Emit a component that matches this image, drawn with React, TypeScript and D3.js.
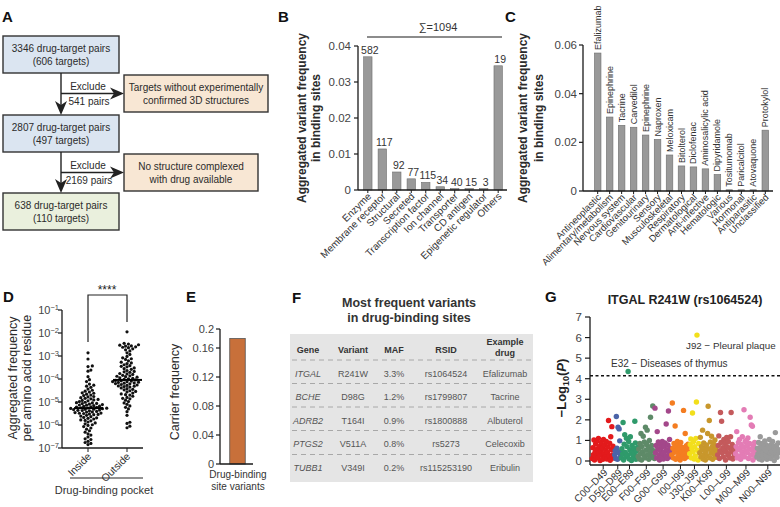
import React from 'react';
import * as d3 from 'd3';

const FONT = '"Liberation Sans", Arial, Helvetica, sans-serif';
const INK = '#2b2b2b';
const AXIS = '#1a1a1a';

// ---------- A: flowchart ----------
const flowMain = [
  ['3346 drug-target pairs', '(606 targets)'],
  ['2807 drug-target pairs', '(497 targets)'],
  ['638 drug-target pairs', '(110 targets)'],
];
const flowExcluded = [
  ['Targets without experimentally', 'confirmed 3D structures'],
  ['No structure complexed', 'with drug available'],
];
const flowExcludedPairs = ['541 pairs', '2169 pairs'];

// ---------- B: target classes ----------
const targetClasses = [
  'Enzyme', 'Membrane receptor', 'Structural', 'Secreted', 'Transcription factor',
  'Ion channel', 'Transporter', 'CD antigen', 'Epigenetic regulator', 'Others',
];
const targetClassFreq = [0.037, 0.0114, 0.005, 0.0031, 0.0021, 0.0009, 0.0004, 0.0004, 0.0004, 0.0345];
const targetClassCounts = [582, 117, 92, 77, 115, 34, 40, 15, 3, 19];
const targetTicks = [0, 0.01, 0.02, 0.03, 0.04];

// ---------- C: drug classes ----------
const drugClasses = [
  'Antineoplastic', 'Alimentary/metabolism', 'Nervous system', 'Cardiovascular', 'Genitourinary',
  'Sensory', 'Musculoskeletal', 'Respiratory', 'Dermatological', 'Anti-infective',
  'Hematologic', 'Various', 'Hormonal', 'Antiparasitic', 'Unclassified',
];
const drugClassFreq = [0.0567, 0.0304, 0.027, 0.0262, 0.023, 0.0212, 0.0148, 0.0103, 0.0099, 0.0091, 0.0068, 0.0005, 0.0005, 0.0005, 0.025];
const topDrugs = [
  'Efalizumab', 'Epinephrine', 'Tacrine', 'Carvedilol', 'Epinephrine', 'Naproxen', 'Meloxicam',
  'Bitolterol', 'Diclofenac', 'Aminosalicylic acid', 'Dipyridamole', 'Tositumomab', 'Paricalcitol',
  'Atovaquone', 'Protokylol',
];
const drugTicks = [0, 0.02, 0.04, 0.06];

// ---------- D: log10 aggregated frequency per residue ----------
const insideLog = [
  -2.86, -3.13, -3.43, -3.46, -3.61, -3.66, -3.9, -4.03, -4.11, -4.22, -4.27, -4.36, -4.31, -4.44, -4.49,
  -4.53, -4.6, -4.57, -4.66, -4.62, -4.72, -4.7, -4.78, -4.81, -4.76, -4.86, -4.84, -4.91, -4.89, -4.95,
  -4.98, -5.03, -5.01, -5.06, -5.09, -5.04, -5.13, -5.11, -5.16, -5.14, -5.19, -5.22, -5.18, -5.25, -5.27,
  -5.23, -5.29, -5.31, -5.28, -5.33, -5.36, -5.32, -5.38, -5.41, -5.37, -5.44, -5.46, -5.43, -5.49, -5.52,
  -5.48, -5.55, -5.58, -5.54, -5.61, -5.64, -5.67, -5.71, -5.69, -5.74, -5.78, -5.82, -5.8, -5.87, -5.91,
  -5.95, -6.02, -5.99, -6.07, -6.13, -6.18, -6.25, -6.31, -6.38, -6.44, -6.52, -6.6, -6.63, -6.71, -6.76,
  -6.8, -6.85, -5.21, -5.35, -5.07, -4.93, -5.5, -5.26,
];
const outsideLog = [
  -1.95, -2.45, -2.48, -2.53, -2.51, -2.57, -2.6, -2.56, -2.64, -2.62, -2.69, -2.73, -2.78, -2.86, -2.93,
  -3.02, -3.08, -3.15, -3.12, -3.21, -3.27, -3.33, -3.3, -3.38, -3.42, -3.47, -3.45, -3.52, -3.58, -3.55,
  -3.63, -3.67, -3.71, -3.69, -3.76, -3.8, -3.78, -3.84, -3.88, -3.86, -3.92, -3.95, -3.99, -4.02, -3.97,
  -4.06, -4.09, -4.04, -4.12, -4.15, -4.11, -4.18, -4.21, -4.17, -4.24, -4.28, -4.26, -4.31, -4.35, -4.33,
  -4.39, -4.42, -4.47, -4.45, -4.51, -4.56, -4.54, -4.61, -4.65, -4.7, -4.68, -4.75, -4.8, -4.86, -4.84,
  -4.92, -4.98, -5.04, -5.1, -5.17, -5.23, -5.3, -5.42, -5.58, -5.88, -5.93, -6.05, -6.12, -4.14, -4.08,
  -4.2, -3.9, -4.3,
];
const pocketGroups = ['Inside', 'Outside'];
const logTicks = [-7, -6, -5, -4, -3, -2, -1];

// ---------- E: carrier frequency ----------
const carrierGroups = ['Drug-binding site variants'];
const carrierFreq = [0.18];
const carrierTicks = [0, 0.04, 0.08, 0.12, 0.16, 0.2];

// ---------- F: table ----------
const tblHeader = ['Gene', 'Variant', 'MAF', 'RSID', 'Example drug'];
const tblGene = ['ITGAL', 'BCHE', 'ADRB2', 'PTGS2', 'TUBB1'];
const tblVariant = ['R241W', 'D98G', 'T164I', 'V511A', 'V349I'];
const tblMaf = ['3.3%', '1.2%', '0.9%', '0.8%', '0.2%'];
const tblRsid = ['rs1064524', 'rs1799807', 'rs1800888', 'rs5273', 'rs115253190'];
const tblDrug = ['Efalizumab', 'Tacrine', 'Albuterol', 'Celecoxib', 'Eribulin'];

// ---------- G: PheWAS ----------
const chapters = ['C00–D49', 'D50–D89', 'E00–E89', 'F00–F99', 'G00–G99', 'I00–I99', 'J30–J99', 'K00–K99', 'L00–L99', 'M00–M99', 'N00–N99'];
const chapterColors = ['#e31a1c', '#4b64a8', '#2f9a6b', '#5e8a68', '#a3478a', '#f47d21', '#f2df1b', '#c8972c', '#c45a5c', '#e37cb5', '#9a9a9a'];
const pheC = [0.12, 0.65, 0.31, 1.02, 0.05, 0.44, 0.83, 0.22, 0.96, 0.58, 0.15, 1.1, 0.38, 0.71, 0.02, 0.49, 0.9, 0.27, 0.63, 0.08, 1.05, 0.35, 0.76, 0.18, 0.52, 0.95, 0.1, 0.41, 0.68, 1.97, 0.25, 0.86, 0.04, 1.18, 0.55, 1.67, 0.3, 0.72, 0.14, 0.6];
const pheD = [0.3, 0.5, 0.12, 2.16, 0.62, 0.08, 1.64, 0.4, 1.56, 0.98, 0.2, 0.45];
const pheE = [0.15, 0.6, 0.35, 1.87, 0.05, 0.82, 1.28, 0.42, 0.2, 1.1, 0.7, 0.28, 4.35, 0.95, 0.1, 0.55, 1.18, 0.38, 0.02, 0.75, 0.48, 0.18, 0.62, 0.32, 1.93, 0.88, 0.08, 0.5, 0.25, 0.66];
const pheF = [0.22, 0.58, 0.1, 0.85, 0.36, 1.34, 0.05, 0.7, 0.45, 1.2, 0.28, 0.92, 0.15, 1.64, 0.52, 0.8, 1.5, 0.3, 0.62, 0.08, 1.0, 0.4, 2.13, 0.18, 0.75, 0.55, 2.67, 0.25, 0.48, 0.12];
const pheG = [2.57, 0.4, 0.75, 0.15, 1.43, 0.6, 0.92, 0.3, 0.05, 0.82, 0.5, 0.2, 0.68, 0.95, 0.38, 0.1, 0.72, 0.45, 0.88, 0.25, 1.8, 0.55, 0.12, 0.78, 2.43, 0.35, 1.05, 0.62, 0.2, 0.48];
const pheI = [0.3, 2.82, 0.62, 0.15, 0.85, 0.42, 1.7, 0.08, 0.7, 0.5, 0.95, 0.22, 0.6, 0.35, 0.78, 0.05, 0.9, 0.45, 0.18, 0.66, 0.28, 2.46, 0.55, 0.12, 1.34, 0.4, 0.74, 0.2, 0.58, 0.82, 0.32, 0.48];
const pheJ = [0.35, 0.8, 1.07, 0.15, 0.6, 2.33, 0.45, 0.95, 0.1, 0.7, 0.25, 1.1, 2.87, 6.12, 0.52, 0.05, 0.85, 0.4];
const pheK = [0.4, 1.15, 0.2, 0.7, 0.55, 1.5, 0.1, 0.88, 0.32, 0.62, 0.05, 0.45, 0.78, 0.25, 1.34, 2.66, 0.58, 1.97, 0.15, 0.92, 0.38, 1.2, 0.68, 0.08, 0.5, 0.82, 0.3, 1.02, 0.6, 0.18, 0.72, 0.42];
const pheL = [0.3, 0.75, 1.22, 0.12, 0.5, 2.36, 0.9, 1.93, 0.4, 0.65, 0.2, 1.05, 0.58, 0.85, 0.05, 0.45, 1.15, 0.7, 0.28, 0.95, 0.35, 0.62, 0.15, 1.18, 2.36, 0.52, 0.8, 0.1, 0.42, 0.68, 0.25, 0.55];
const pheM = [0.35, 0.7, 1.43, 0.15, 0.55, 0.9, 0.25, 1.05, 0.62, 0.08, 0.8, 0.45, 1.18, 0.3, 0.68, 2.49, 0.2, 0.95, 0.5, 1.0, 0.75, 0.4, 1.12, 0.12, 0.6, 0.85, 2.13, 0.28, 1.75, 0.52, 1.69, 0.05, 0.72, 0.38, 0.9, 0.18, 0.58, 0.45];
const pheN = [0.2, 0.62, 0.35, 0.9, 0.1, 0.5, 1.18, 0.72, 0.28, 0.05, 0.85, 0.42, 0.65, 0.15, 0.98, 0.55, 0.3, 0.78, 0.08, 0.48, 0.7, 0.22, 1.05, 0.6, 0.38, 0.12, 0.82, 0.45, 0.95, 0.25, 0.68, 0.02, 0.52, 1.38, 0.32, 0.75, 0.18, 0.58, 0.88, 0.4];
const pheValues = [pheC, pheD, pheE, pheF, pheG, pheI, pheJ, pheK, pheL, pheM, pheN];
const pheThreshold = 4.15;
const pheTicks = [0, 1, 2, 3, 4, 5, 6, 7];

function Letter({ x, y, t }: { x: number; y: number; t: string }) {
  return (
    <text x={x} y={y} fontSize={15} fontWeight="bold" fill="#111">
      {t}
    </text>
  );
}

function VLabel({ x, y, text, size = 12, bold = false }: any) {
  return (
    <text
      transform={`translate(${x},${y}) rotate(-90)`}
      textAnchor="middle"
      dy="0.35em"
      fontSize={size}
      fontWeight={bold ? 'bold' : 'normal'}
      fill={INK}>
      {text}
    </text>
  );
}

function PanelA() {
  const boxX = 3, boxW = 116, boxH = 37;
  const mainTop = [36, 115, 193];
  const mainFill = ['#dbe5f1', '#dbe5f1', '#eaf0dd'];
  const excl = [{ x: 124, y: 75, w: 144 }, { x: 124, y: 154, w: 134 }];
  const spine = boxX + boxW / 2;
  return (
    <g>
      <Letter x={2} y={22} t="A" />
      {flowMain.map((lines, i) => (
        <g key={i}>
          <rect x={boxX} y={mainTop[i]} width={boxW} height={boxH} fill={mainFill[i]} stroke="#333" strokeWidth={1.4} />
          {lines.map((s, j) => (
            <text key={j} x={spine} y={mainTop[i] + 16 + j * 13} textAnchor="middle" fontSize={10} fill={INK}>
              {s}
            </text>
          ))}
        </g>
      ))}
      {excl.map((b, i) => {
        const y0 = mainTop[i] + boxH;
        const y1 = mainTop[i + 1];
        const hy = b.y + boxH / 2;
        return (
          <g key={i}>
            <line x1={spine} x2={spine} y1={y0} y2={y1 - 8} stroke="#222" strokeWidth={1.4} />
            <path d={`M${spine},${y1} L${spine - 6},${y1 - 14} L${spine},${y1 - 10} L${spine + 6},${y1 - 14}Z`} fill="#222" />
            <line x1={spine} x2={b.x - 8} y1={hy} y2={hy} stroke="#222" strokeWidth={1.4} />
            <path d={`M${b.x},${hy} L${b.x - 14},${hy - 6} L${b.x - 10},${hy} L${b.x - 14},${hy + 6}Z`} fill="#222" />
            <rect x={b.x} y={b.y} width={b.w} height={boxH} fill="#f8e7d4" stroke="#333" strokeWidth={1.4} />
            {flowExcluded[i].map((s, j) => (
              <text key={j} x={b.x + b.w / 2} y={b.y + 16 + j * 13} textAnchor="middle" fontSize={10} fill={INK}>
                {s}
              </text>
            ))}
            <text x={88} y={hy - 4} textAnchor="middle" fontSize={10} fill={INK}>Exclude</text>
            <text x={89} y={hy + 11} textAnchor="middle" fontSize={10} fill={INK}>{flowExcludedPairs[i]}</text>
          </g>
        );
      })}
    </g>
  );
}

function PanelB() {
  const x = d3.scaleBand<string>().domain(targetClasses).range([360, 506]).paddingInner(0.42).paddingOuter(0.25);
  const y = d3.scaleLinear().domain([0, 0.04]).range([190, 46]);
  const ax0 = 358, ax1 = 507;
  return (
    <g>
      <Letter x={278} y={22} t="B" />
      <VLabel x={302} y={118} text="Aggregated variant frequency" bold size={12} />
      <VLabel x={316} y={118} text="in binding sites" bold size={12} />
      <line x1={ax0} x2={ax0} y1={y(0)} y2={y(0.04)} stroke={AXIS} strokeWidth={1.3} />
      {targetTicks.map((t) => (
        <g key={t}>
          <line x1={ax0 - 4} x2={ax0} y1={y(t)} y2={y(t)} stroke={AXIS} strokeWidth={1.2} />
          <text x={ax0 - 7} y={y(t) + 4} textAnchor="end" fontSize={11.5} fill="#444">{t === 0 ? '0' : t.toFixed(2)}</text>
        </g>
      ))}
      {targetClasses.map((c, i) => {
        const bx = x(c)!;
        const cx = bx + x.bandwidth() / 2;
        return (
          <g key={c}>
            <rect x={bx} y={y(targetClassFreq[i])} width={x.bandwidth()} height={y(0) - y(targetClassFreq[i])} fill="#999" stroke="#6e6e6e" strokeWidth={0.6} />
            <text x={cx + 2} y={y(targetClassFreq[i]) - 3} textAnchor="middle" fontSize={10.5} fill="#333">{targetClassCounts[i]}</text>
            <line x1={cx} x2={cx} y1={y(0)} y2={y(0) + 3} stroke={AXIS} />
            <text transform={`translate(${cx + 4},${y(0) + 7}) rotate(-45)`} textAnchor="end" fontSize={10} fill="#333">{c}</text>
          </g>
        );
      })}
      <line x1={ax0} x2={ax1} y1={y(0)} y2={y(0)} stroke={AXIS} strokeWidth={1.3} />
      <line x1={367} x2={502} y1={37} y2={37} stroke={AXIS} strokeWidth={1.2} />
      <text x={438} y={31} textAnchor="middle" fontSize={11} fill="#333">∑=1094</text>
    </g>
  );
}

function PanelC() {
  const x = d3.scaleBand<string>().domain(drugClasses).range([592, 771]).paddingInner(0.45).paddingOuter(0.2);
  const y = d3.scaleLinear().domain([0, 0.06]).range([191, 45]);
  const ax0 = 583, ax1 = 773;
  return (
    <g>
      <Letter x={505} y={22} t="C" />
      <VLabel x={523} y={118} text="Aggregated variant frequency" bold size={12} />
      <VLabel x={539} y={118} text="in binding sites" bold size={12} />
      <line x1={ax0} x2={ax0} y1={y(0)} y2={y(0.06)} stroke={AXIS} strokeWidth={1.3} />
      {drugTicks.map((t) => (
        <g key={t}>
          <line x1={ax0 - 4} x2={ax0} y1={y(t)} y2={y(t)} stroke={AXIS} strokeWidth={1.2} />
          <text x={ax0 - 6} y={y(t) + 4} textAnchor="end" fontSize={11.5} fill="#444">{t === 0 ? '0' : t.toFixed(2)}</text>
        </g>
      ))}
      {drugClasses.map((c, i) => {
        const bx = x(c)!;
        const cx = bx + x.bandwidth() / 2;
        const top = y(drugClassFreq[i]);
        return (
          <g key={c}>
            <rect x={bx} y={top} width={x.bandwidth()} height={y(0) - top} fill="#999" stroke="#6e6e6e" strokeWidth={0.6} />
            <text transform={`translate(${cx + 3},${top - 3}) rotate(-90)`} fontSize={9} fill="#333">{topDrugs[i]}</text>
            <line x1={cx} x2={cx} y1={y(0)} y2={y(0) + 3} stroke={AXIS} />
            <text transform={`translate(${cx + 4},${y(0) + 7}) rotate(-45)`} textAnchor="end" fontSize={9.5} fill="#333">{c}</text>
          </g>
        );
      })}
      <line x1={ax0} x2={ax1} y1={y(0)} y2={y(0)} stroke={AXIS} strokeWidth={1.3} />
    </g>
  );
}

function beeswarm(vals: number[], cx: number, yOf: (v: number) => number, r: number) {
  const placed: [number, number][] = [];
  const ys = vals.map(yOf).sort((a, b) => b - a);
  for (const py of ys) {
    let k = 0;
    for (;;) {
      const off = k === 0 ? 0 : (k % 2 ? 1 : -1) * Math.ceil(k / 2) * r * 0.9;
      const px = cx + off;
      if (placed.every(([qx, qy]) => (qx - px) ** 2 + (qy - py) ** 2 >= (2 * r) ** 2 * 0.9)) {
        placed.push([px, py]);
        break;
      }
      k++;
    }
  }
  return placed;
}

function PanelD() {
  const y = d3.scaleLog().domain([1e-7, 1e-1]).range([448, 310]);
  const x = d3.scalePoint<string>().domain(pocketGroups).range([88, 127]);
  const groups = [insideLog, outsideLog];
  const ax0 = 62;
  return (
    <g>
      <Letter x={3} y={302} t="D" />
      <VLabel x={13} y={378} text="Aggregated frequency" size={12.5} />
      <VLabel x={27} y={378} text="per amino acid residue" size={12.5} />
      <line x1={ax0} x2={ax0} y1={y(1e-7)} y2={y(1e-1)} stroke={AXIS} strokeWidth={1.3} />
      {logTicks.map((k) => (
        <g key={k}>
          <line x1={ax0 - 4} x2={ax0} y1={y(10 ** k)} y2={y(10 ** k)} stroke={AXIS} strokeWidth={1.2} />
          <text x={ax0 - 3} y={y(10 ** k) + 4} textAnchor="end" fontSize={11} fill="#444">
            10<tspan dy={-4.5} fontSize={7.5}>{'−' + Math.abs(k)}</tspan>
          </text>
        </g>
      ))}
      <line x1={ax0} x2={143} y1={448} y2={448} stroke={AXIS} strokeWidth={1.3} />
      {pocketGroups.map((g, gi) => {
        const cx = x(g)!;
        const pts = beeswarm(groups[gi], cx, (v) => y(10 ** v), 1.6);
        const med = y(10 ** (d3.median(groups[gi]) as number));
        return (
          <g key={g}>
            {pts.map(([px, py], i) => (
              <circle key={i} cx={px} cy={py} r={1.6} fill="#111" />
            ))}
            <line x1={cx - 14} x2={cx + 15} y1={med} y2={med} stroke="#000" strokeWidth={2} />
            <line x1={cx} x2={cx} y1={448} y2={452} stroke={AXIS} />
            <text transform={`translate(${cx + 4},${457}) rotate(-45)`} textAnchor="end" fontSize={10.5} fill="#333">{g}</text>
          </g>
        );
      })}
      <path d={`M${x('Inside')},342 V295 H${x('Outside')} V322`} fill="none" stroke="#222" strokeWidth={1.2} />
      <text x={107} y={294} textAnchor="middle" fontSize={12} fill="#222">****</text>
      <line x1={70} x2={143} y1={478} y2={478} stroke="#222" strokeWidth={1.2} />
      <text x={104} y={494} textAnchor="middle" fontSize={11} fill="#333">Drug-binding pocket</text>
    </g>
  );
}

function PanelE() {
  const y = d3.scaleLinear().domain([0, 0.16, 0.2]).range([464, 348, 329]);
  const x = d3.scaleBand<string>().domain(carrierGroups).range([222, 253]).paddingInner(0.5).paddingOuter(0.25);
  const ax0 = 220;
  return (
    <g>
      <Letter x={186} y={302} t="E" />
      <VLabel x={175} y={392} text="Carrier frequency" size={12.5} />
      <line x1={ax0} x2={ax0} y1={y(0)} y2={y(0.2)} stroke={AXIS} strokeWidth={1.3} />
      {carrierTicks.map((t) => (
        <g key={t}>
          <line x1={ax0 - 4} x2={ax0} y1={y(t)} y2={y(t)} stroke={AXIS} strokeWidth={1.2} />
          <text x={ax0 - 6} y={y(t) + 4} textAnchor="end" fontSize={11} fill="#444">{t === 0 ? '0' : String(t)}</text>
        </g>
      ))}
      {carrierGroups.map((g, i) => (
        <rect key={g} x={x(g)} y={y(carrierFreq[i])} width={x.bandwidth()} height={y(0) - y(carrierFreq[i])} fill="#c8703a" stroke="#555" strokeWidth={0.8} />
      ))}
      <line x1={ax0} x2={253} y1={y(0)} y2={y(0)} stroke={AXIS} strokeWidth={1.3} />
      <text x={238} y={478} textAnchor="middle" fontSize={10} fill="#333">Drug-binding</text>
      <text x={238} y={490} textAnchor="middle" fontSize={10} fill="#333">site variants</text>
    </g>
  );
}

function PanelF() {
  const colX = [308, 353, 394, 446, 505];
  const rowY = d3.range(tblGene.length).map((i) => 376.5 + i * 23.6);
  const dashY = [360, 383.5, 407, 430.5, 454.5];
  const rows = tblGene.map((g, i) => [g, tblVariant[i], tblMaf[i], tblRsid[i], tblDrug[i]]);
  return (
    <g>
      <Letter x={292} y={303} t="F" />
      <text x={409} y={307} textAnchor="middle" fontSize={12.5} fontWeight="bold" fill="#333">Most frequent variants</text>
      <text x={409} y={322} textAnchor="middle" fontSize={12.5} fontWeight="bold" fill="#333">in drug-binding sites</text>
      <rect x={290} y={334} width={243} height={148} fill="#e5e5e5" />
      {tblHeader.map((h, i) =>
        h === 'Example drug' ? (
          <g key={h}>
            <text x={colX[i]} y={345} textAnchor="middle" fontSize={9} fontWeight="bold" fill="#333">Example</text>
            <text x={colX[i]} y={356} textAnchor="middle" fontSize={9} fontWeight="bold" fill="#333">drug</text>
          </g>
        ) : (
          <text key={h} x={colX[i]} y={352.5} textAnchor="middle" fontSize={9} fontWeight="bold" fill="#333">{h}</text>
        ),
      )}
      {dashY.map((dy) => (
        <line key={dy} x1={292} x2={531} y1={dy} y2={dy} stroke="#a8a8a8" strokeWidth={1} strokeDasharray="5,4" />
      ))}
      {rows.map((r, i) =>
        r.map((c, j) => (
          <text key={i + '-' + j} x={colX[j]} y={rowY[i]} textAnchor="middle" fontSize={9} fontStyle={j === 0 ? 'italic' : 'normal'} fill="#555">{c}</text>
        )),
      )}
    </g>
  );
}

function PanelG() {
  const counts = pheValues.map((v) => v.length);
  const offsets = counts.map((_, i) => d3.sum(counts.slice(0, i)));
  const total = d3.sum(counts);
  const x = d3.scaleLinear().domain([0, total]).range([592, 779]);
  const y = d3.scaleLinear().domain([0, 7]).range([461, 317]);
  const ax0 = 590;
  return (
    <g>
      <Letter x={545} y={302} t="G" />
      <text x={685} y={304} textAnchor="middle" fontSize={12.5} fontWeight="bold" fill="#222">ITGAL R241W (rs1064524)</text>
      <text transform={`translate(566,388) rotate(-90)`} textAnchor="middle" fontSize={13} fontWeight="bold" fill="#222">
        −Log<tspan dy={3} fontSize={9}>10</tspan><tspan dy={-3}>(</tspan><tspan fontStyle="italic">P</tspan>)
      </text>
      <line x1={ax0} x2={ax0} y1={465} y2={y(7)} stroke={AXIS} strokeWidth={1.3} />
      {pheTicks.map((t) => (
        <g key={t}>
          <line x1={ax0 - 5} x2={ax0} y1={y(t)} y2={y(t)} stroke={AXIS} strokeWidth={1.2} />
          <text x={ax0 - 8} y={y(t) + 4} textAnchor="end" fontSize={11.5} fill="#444">{t}</text>
        </g>
      ))}
      <line x1={ax0} x2={780} y1={465} y2={465} stroke={AXIS} strokeWidth={1.3} />
      {pheValues.map((vals, ci) =>
        vals.map((v, i) => (
          <circle key={ci + '-' + i} cx={x(offsets[ci] + i + 0.5)} cy={y(v)} r={2.7} fill={chapterColors[ci]} />
        )),
      )}
      <line x1={ax0} x2={780} y1={y(pheThreshold)} y2={y(pheThreshold)} stroke="#111" strokeWidth={1.5} strokeDasharray="3,2.5" />
      {chapters.map((c, ci) => {
        const cx = x(offsets[ci] + counts[ci] / 2);
        return (
          <g key={c}>
            <line x1={cx} x2={cx} y1={465} y2={469} stroke={AXIS} />
            <text transform={`translate(${cx + 5},${473}) rotate(-45)`} textAnchor="end" fontSize={10} fill="#333">{c}</text>
          </g>
        );
      })}
      <text x={686} y={349} fontSize={9.8} fill="#333">J92 − Pleural plaque</text>
      <text x={611} y={367} fontSize={10} fill="#333">E32 − Diseases of thymus</text>
    </g>
  );
}

export default function App() {
  return (
    <svg width={780} height={507} viewBox="0 0 780 507" fontFamily={FONT} style={{ position: 'absolute', left: 0, top: 0, background: '#fff' }}>
      <rect width={780} height={507} fill="#fff" />
      <PanelA />
      <PanelB />
      <PanelC />
      <PanelD />
      <PanelE />
      <PanelF />
      <PanelG />
    </svg>
  );
}
